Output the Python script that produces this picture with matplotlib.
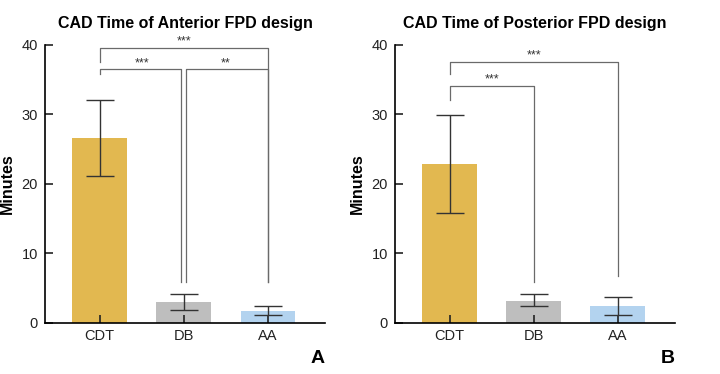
import numpy as np
import matplotlib.pyplot as plt

plt.rcParams['font.family'] = ['Liberation Sans', 'DejaVu Sans']

groups = ['CDT', 'DB', 'AA']
colors = ['#E2B850', '#BEBEBE', '#B3D3EF']

# Anterior FPD design
ant_mean = [26.6, 3.0, 1.7]
ant_low = [21.2, 1.8, 1.2]
ant_high = [32.1, 4.2, 2.4]

# Posterior FPD design
post_mean = [22.9, 3.2, 2.5]
post_low = [15.8, 2.5, 1.2]
post_high = [29.9, 4.2, 3.7]

# brackets: (i, j, height, tip_i, tip_j, label, label_y)
ant_brackets = [(0, 2, 39.6, 37.5, 5.9, '***', 40.5),
                (0, 0.97, 36.5, 35.8, 5.9, '***', 37.4),
                (1.03, 2, 36.5, 5.9, 5.9, '**', 37.4)]
post_brackets = [(0, 2, 37.6, 35.8, 6.8, '***', 38.5),
                 (0, 1, 34.1, 32.1, 5.9, '***', 35.0)]


def draw_panel(ax, title, mean, low, high, brackets, letter):
    x = np.arange(len(groups))
    mean = np.array(mean)
    yerr = [mean - np.array(low), np.array(high) - mean]
    ax.bar(x, mean, 0.65, color=colors, zorder=1)
    ax.errorbar(x, mean, yerr=yerr, fmt='none', ecolor='#333333',
                elinewidth=1.0, capsize=10, capthick=1.0, zorder=3)
    for i, j, h, ti, tj, lab, ly in brackets:
        ax.plot([i, i, j, j], [ti, h, h, tj], color='#6a6a6a', lw=0.9,
                clip_on=False, zorder=2)
        xm = (round(i) + round(j)) / 2
        ax.text(xm, ly, lab, ha='center', va='center', fontsize=9,
                color='#333333')
    ax.set_xlim(-0.65, 2.68)
    ax.set_ylim(0, 40)
    ax.set_yticks([0, 10, 20, 30, 40])
    ax.set_xticks(x)
    ax.set_xticklabels(groups)
    ax.spines['top'].set_visible(False)
    ax.spines['right'].set_visible(False)
    ax.spines['left'].set_linewidth(1.2)
    ax.spines['bottom'].set_linewidth(1.2)
    ax.tick_params(axis='y', direction='in', length=6, width=1.2,
                   labelsize=10.5, colors='#222222', pad=5)
    ax.tick_params(axis='x', direction='in', length=6, width=1.2,
                   labelsize=10.5, colors='#222222', pad=4)
    ax.set_ylabel('Minutes', fontsize=11.5, fontweight='bold')
    ax.yaxis.set_label_coords(-0.107, 0.5)
    ax.set_title(title, fontsize=11.5, fontweight='bold', pad=12)
    ax.text(1.0, -0.126, letter, transform=ax.transAxes, ha='right',
            va='center', fontsize=14, fontweight='bold')


fig = plt.figure(figsize=(7.2, 3.74), dpi=100)
ax1 = fig.add_axes([0.0625, 0.1364, 0.3889, 0.7433])
ax2 = fig.add_axes([0.5486, 0.1364, 0.3889, 0.7433])

draw_panel(ax1, 'CAD Time of Anterior FPD design', ant_mean, ant_low,
           ant_high, ant_brackets, 'A')
draw_panel(ax2, 'CAD Time of Posterior FPD design', post_mean, post_low,
           post_high, post_brackets, 'B')

fig.savefig('out.png', dpi=100)
